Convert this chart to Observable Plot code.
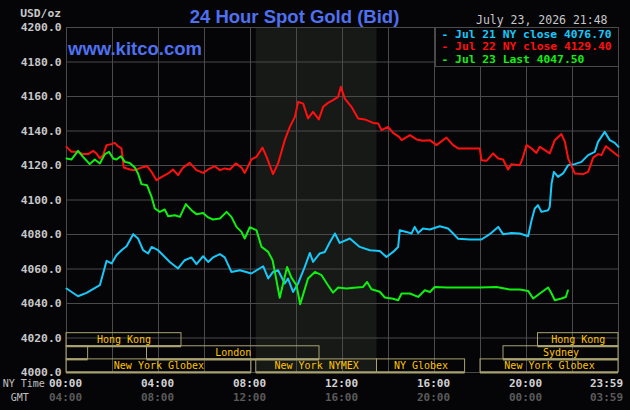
<!DOCTYPE html>
<html><head><meta charset="utf-8">
<script src="https://cdn.jsdelivr.net/npm/d3@7"></script>
<script src="https://cdn.jsdelivr.net/npm/@observablehq/plot@0.6"></script>
<style>html,body{margin:0;padding:0;background:#050508;overflow:hidden}</style>
</head><body><div id="chart"></div>
<script>
// ---- Data (NY time in decimal hours, price in USD/oz) ----
const jul21Hour = [0,0.5,0.87,1.45,1.74,1.96,2.17,2.39,2.61,2.9,3.11,3.33,3.55,3.7,3.98,4.2,4.49,4.85,5.14,5.43,5.65,5.94,6.16,6.37,6.67,6.88,7.17,7.54,8.04,8.55,8.77,8.98,9.2,9.49,9.63,9.85,10.07,10.36,10.58,10.72,11.01,11.23,11.45,11.67,11.88,12.32,12.75,13.19,13.62,13.91,14.2,14.42,14.49,14.78,15.0,15.14,15.29,15.5,15.8,16.23,16.59,16.81,17.03,17.54,18.04,18.4,18.77,18.98,19.35,19.71,20.07,20.22,20.36,20.5,20.65,20.94,21.01,21.09,21.19,21.37,21.59,21.81,22.1,22.39,22.68,22.97,23.11,23.4,23.62,23.84,24];
const jul21Price = [4048.7,4044.2,4046.2,4050.6,4064.7,4063.2,4068.0,4070.9,4073.2,4080.2,4077.7,4070.9,4069.0,4072.8,4070.9,4068.0,4064.1,4060.3,4065.1,4066.7,4062.8,4067.4,4064.1,4066.7,4068.6,4066.7,4058.3,4059.3,4057.4,4061.6,4054.5,4058.3,4059.3,4051.6,4054.5,4046.7,4051.6,4061.2,4069.3,4064.1,4069.0,4069.9,4075.5,4080.6,4075.1,4077.7,4072.8,4070.9,4070.5,4067.0,4069.9,4072.8,4082.5,4081.5,4080.6,4084.4,4080.9,4083.5,4082.9,4084.8,4083.5,4080.6,4077.5,4077.1,4077.1,4080.2,4084.4,4080.2,4080.9,4080.6,4079.0,4088.3,4095.1,4097.0,4093.1,4094.1,4096.0,4109.6,4116.3,4113.4,4115.4,4120.2,4120.8,4122.1,4126.0,4127.9,4133.7,4139.5,4134.7,4133.1,4130.8];

const jul22Hour = [0,0.22,0.5,0.72,0.94,1.16,1.3,1.45,1.59,1.74,1.96,2.1,2.24,2.39,2.49,2.75,2.97,3.26,3.5,3.7,3.91,4.2,4.42,4.63,4.85,5.07,5.36,5.65,5.94,6.16,6.45,6.67,6.88,7.1,7.36,7.61,7.75,8.04,8.26,8.52,8.7,8.98,9.2,9.49,9.71,9.93,10.07,10.29,10.5,10.72,10.97,11.16,11.37,11.59,11.81,11.93,12.1,12.39,12.68,12.97,13.33,13.55,13.7,13.98,14.2,14.46,14.57,14.93,15.22,15.5,15.8,16.09,16.52,16.81,17.03,17.97,18.04,18.26,18.55,18.77,18.98,19.2,19.35,19.71,19.83,20.0,20.22,20.43,20.58,20.8,21.01,21.23,21.52,21.67,21.81,22.1,22.46,22.68,22.9,23.11,23.26,23.45,23.7,24];
const jul22Price = [4130.8,4127.9,4127.9,4126.6,4126.6,4128.5,4127.0,4124.1,4126.0,4131.8,4132.4,4133.1,4131.2,4129.9,4118.8,4117.7,4117.3,4118.8,4119.6,4116.3,4111.5,4113.8,4115.4,4117.7,4114.4,4118.8,4121.5,4117.3,4115.7,4117.7,4119.6,4117.3,4118.3,4117.7,4121.2,4118.8,4115.7,4123.5,4125.0,4130.4,4125.0,4115.0,4121.2,4134.7,4142.4,4148.2,4156.9,4155.9,4147.3,4151.1,4146.7,4154.0,4156.3,4157.9,4159.8,4165.6,4158.8,4154.0,4147.3,4146.7,4144.7,4144.4,4140.5,4142.4,4138.9,4136.6,4134.7,4137.6,4135.1,4134.3,4134.7,4131.8,4136.2,4131.8,4129.9,4129.9,4123.1,4122.7,4127.0,4124.1,4123.5,4117.7,4120.8,4120.2,4124.1,4131.8,4129.9,4127.3,4130.8,4128.9,4127.0,4134.7,4138.2,4133.7,4124.1,4115.4,4115.0,4116.3,4124.6,4126.6,4126.0,4131.2,4128.5,4125.4];

const jul23Hour = [0,0.22,0.5,0.72,1.01,1.23,1.45,1.67,1.85,2.03,2.17,2.36,2.54,2.75,2.97,3.11,3.26,3.5,3.7,3.84,4.06,4.27,4.42,4.71,4.93,5.19,5.43,5.65,5.94,6.16,6.37,6.67,6.96,7.17,7.39,7.61,7.75,7.97,8.26,8.48,8.77,8.96,9.1,9.27,9.4,9.59,9.78,10.0,10.16,10.32,10.5,10.8,11.09,11.37,11.59,11.81,12.17,12.61,12.9,13.07,13.26,13.62,13.84,14.2,14.42,14.57,14.93,15.29,15.58,15.8,16.01,16.52,17.1,17.97,18.7,19.27,19.71,20.07,20.29,20.58,20.94,21.09,21.23,21.52,21.71,21.8];
const jul23Price = [4124.1,4123.5,4128.5,4125.0,4120.8,4123.5,4121.2,4126.6,4127.9,4124.1,4123.5,4125.4,4122.1,4121.5,4118.8,4115.4,4109.2,4108.6,4101.8,4095.1,4093.1,4094.5,4090.6,4091.2,4090.2,4097.6,4094.1,4091.8,4092.5,4089.9,4088.7,4089.3,4093.1,4090.2,4084.4,4081.5,4077.7,4084.2,4082.5,4072.8,4069.9,4065.1,4055.4,4043.3,4050.6,4061.2,4055.0,4050.6,4039.6,4046.6,4054.5,4058.3,4056.4,4050.6,4046.3,4049.3,4048.7,4049.3,4049.6,4052.5,4048.3,4046.8,4043.5,4042.8,4041.9,4045.8,4045.8,4043.8,4047.7,4046.7,4049.6,4049.3,4049.3,4049.3,4049.6,4048.1,4048.1,4047.3,4042.9,4045.8,4049.3,4045.8,4041.9,4042.9,4043.8,4047.5];

const legendLabels = ["Jul 21 NY close", "Jul 22 NY close", "Jul 23 Last"];
const legendValues = [4076.70, 4129.40, 4047.50];

const yTicks = [4000,4020,4040,4060,4080,4100,4120,4140,4160,4180,4200];
const xGridHours = [0,2,4,6,8,10,12,14,16,18,20,22,24];
const nyTickHours = [0,4,8,12,16,20];
const nyTickLabels = ["00:00","04:00","08:00","12:00","16:00","20:00"];
const gmtTickLabels = ["04:00","08:00","12:00","16:00","20:00","00:00"];
const lastTickHour = 23.983;
const lastNyLabel = "23:59";
const lastGmtLabel = "03:59";

const sessionNames = ["Hong Kong","","London","New York Globex","New York NYMEX","NY Globex","New York Globex","Sydney","Hong Kong"];
const sessionStart = [0,0,3.5,0,8.25,13.5,18,19,20.5];
const sessionEnd   = [5,0.94,11,8.04,13.5,17.33,24,24,24];
const sessionRow   = [0,1,1,2,2,2,2,1,0];

const titleText = "24 Hour Spot Gold (Bid)";
const dateText = "July 23, 2026 21:48";
const unitText = "USD/oz";
const siteText = "www.kitco.com";

// ---- Styles ----
const colors = ["#18c8f8", "#ff1010", "#10f010"];
const bg = "#050508", shade = "#161916", gridColor = "#4a4a4a", boxColor = "#a8a270", gold = "#ffc400";
const mono = "'DejaVu Sans Mono','Liberation Mono',monospace";
const sans = "'Liberation Sans',Arial,sans-serif";

const series = [
  jul21Hour.map((h,i)=>({h, p: jul21Price[i], s: 0})),
  jul22Hour.map((h,i)=>({h, p: jul22Price[i], s: 1})),
  jul23Hour.map((h,i)=>({h, p: jul23Price[i], s: 2}))
];
const rowH = 7.6;
const sessions = sessionNames.map((name,i)=>({
  name, start: sessionStart[i], end: sessionEnd[i],
  top: 4000 + (3 - sessionRow[i]) * rowH,
  bottom: 4000 + (2 - sessionRow[i]) * rowH
}));
const nymex = sessions.filter(d => d.name === "New York NYMEX");

const svg = Plot.plot({
  width: 630, height: 410,
  marginLeft: 66, marginRight: 12, marginTop: 27, marginBottom: 38,
  x: {type: "linear", domain: [0, 24], axis: null},
  y: {domain: [4000, 4200], axis: null},
  style: {background: bg, color: "#c8c8c8", overflow: "visible"},
  marks: [
    Plot.rect(nymex, {x1: "start", x2: "end", fill: shade}),
    Plot.ruleX(xGridHours, {stroke: gridColor, strokeWidth: 1}),
    Plot.ruleY(yTicks, {stroke: gridColor, strokeWidth: 1}),
    Plot.rect(sessions, {x1: "start", x2: "end", y1: "bottom", y2: "top", fill: "none", stroke: boxColor, strokeWidth: 1}),
    Plot.ruleY(sessions, {y: "bottom", x1: "start", x2: "end", stroke: boxColor, strokeWidth: 2}),
    Plot.text(sessions.filter(d => d.name), {x: d => (d.start + d.end) / 2, y: d => (d.top + d.bottom) / 2, text: "name", fill: gold, fontFamily: mono, fontSize: 10}),
    ...series.map((data, i) => Plot.line(data, {x: "h", y: "p", stroke: colors[i], strokeWidth: 2})),
    Plot.text(yTicks, {frameAnchor: "left", y: d => d, text: d => d.toFixed(1), textAnchor: "end", dx: -5, fill: "#c8c8c8", fontFamily: mono, fontWeight: "bold", fontSize: 11.3}),
    Plot.text(nyTickHours, {x: d => d, frameAnchor: "bottom", text: (d, i) => nyTickLabels[i], lineAnchor: "bottom", dy: 14.5, dx: -1, fill: "#d2d2d2", fontFamily: mono, fontWeight: "bold", fontSize: 11}),
    Plot.text(nyTickHours, {x: d => d, frameAnchor: "bottom", text: (d, i) => gmtTickLabels[i], lineAnchor: "bottom", dy: 28.5, dx: -1, fill: "#5a5a5a", fontFamily: mono, fontWeight: "bold", fontSize: 11}),
    Plot.text([lastTickHour], {x: d => d, frameAnchor: "bottom", text: [lastNyLabel], textAnchor: "end", lineAnchor: "bottom", dy: 14.5, dx: 5, fill: "#d2d2d2", fontFamily: mono, fontWeight: "bold", fontSize: 11}),
    Plot.text([lastTickHour], {x: d => d, frameAnchor: "bottom", text: [lastGmtLabel], textAnchor: "end", lineAnchor: "bottom", dy: 28.5, dx: 5, fill: "#5a5a5a", fontFamily: mono, fontWeight: "bold", fontSize: 11})
  ]
});
document.getElementById("chart").appendChild(svg);

// ---- Overlay texts and legend ----
const s = d3.select(svg);
function addText(x, y, anchor, family, weight, size, fill, str) {
  return s.append("text").attr("x", x).attr("y", y).attr("text-anchor", anchor)
    .attr("font-family", family).attr("font-weight", weight).attr("font-size", size)
    .attr("fill", fill).text(str);
}
addText(294.5, 22.5, "middle", sans, "bold", 18.5, "#5070f0", titleText);
addText(68, 55, "start", sans, "bold", 18.5, "#5070f0", siteText);
addText(61, 17, "end", mono, "bold", 11.3, "#c8c8c8", unitText);
addText(476, 23.5, "start", mono, "normal", 11.5, "#c8c8c8", dateText);
addText(2.7, 386.7, "start", mono, "normal", 10, "#c0c0c0", "NY Time");
addText(10.7, 400.5, "start", mono, "normal", 10, "#c0c0c0", "GMT");
s.append("rect").attr("x", 435.5).attr("y", 27.5).attr("width", 183).attr("height", 39)
  .attr("fill", bg).attr("stroke", gridColor);
const legendBaselines = [37.7, 50.2, 62.9];
legendLabels.forEach((lab, i) => {
  addText(441.5, legendBaselines[i], "start", mono, "bold", 11.3, colors[i],
    "- " + lab + " " + legendValues[i].toFixed(2));
});
</script></body></html>
